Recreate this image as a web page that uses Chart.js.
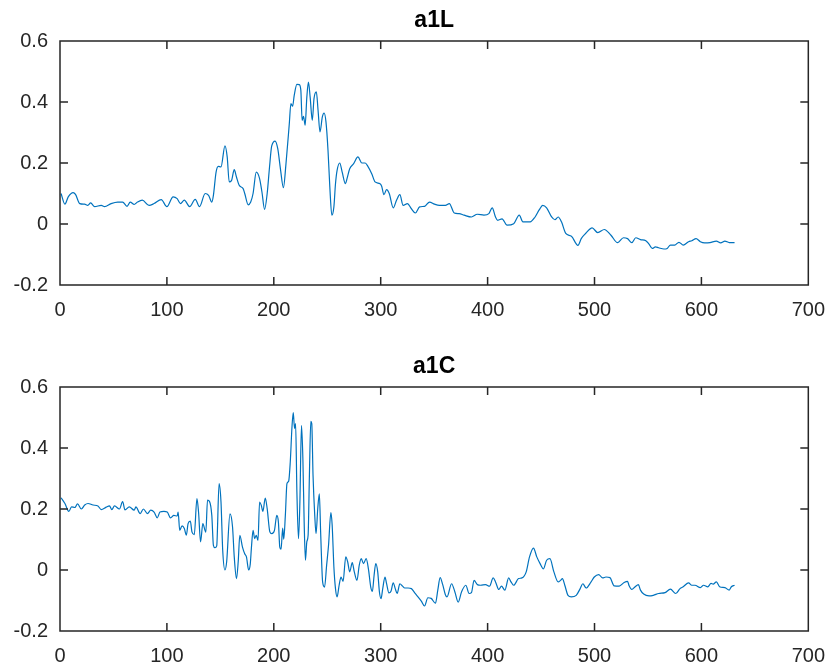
<!DOCTYPE html>
<html>
<head>
<meta charset="utf-8">
<script src="https://cdn.jsdelivr.net/npm/chart.js@4"></script>
<style>
  html, body { margin: 0; padding: 0; background: #fff; }
  .wrap { position: absolute; left: 0; width: 838px; height: 334px; }
  canvas { display: block; }
</style>
</head>
<body>
<div class="wrap" style="top:0"><canvas id="c1" width="838" height="334"></canvas></div>
<div class="wrap" style="top:334px"><canvas id="c2" width="838" height="334"></canvas></div>
<script>
const titles = ['a1L', 'a1C'];
const xTicks = [0, 100, 200, 300, 400, 500, 600, 700];
const yTicks = [-0.2, 0, 0.2, 0.4, 0.6];
const yTickLabels = ['-0.2', '0', '0.2', '0.4', '0.6'];

const xL = [1,4.6,7.7,12.3,14.5,18.5,23,26,28.7,32.4,38.6,41.7,47.8,54,58.6,62.7,65.7,69.4,72.5,77,83.3,88,94.7,100,105.8,109.6,112.7,116.3,121.3,126.5,130.5,135.8,139,142,143.5,146,148.1,150.6,154.3,156.4,158.3,160.5,163,165,167.6,171.3,172.8,176,178.4,180.6,183.6,186.7,188.9,191.4,193.8,196,198,201.2,203.7,206.2,209,211.4,214.5,216,217.6,219.1,221.6,223.8,225.3,226.5,227.8,229.3,230.9,232.4,234,236,237.6,239.8,241.4,243.2,245.4,247,248.8,250.7,252.4,254.3,256.2,257.7,259.2,261.7,263.9,267,268.5,271,274.7,278.7,282.4,285.5,288,291.6,294.7,299.4,300.9,303,305.5,308,311.7,314.8,317.9,321,325,328.7,332.4,336.4,341,345.7,350.3,354.9,360.5,364.2,368.8,373.4,378,384.9,390.4,396.6,401.2,404.3,407.4,409.5,413.5,418.2,424.4,429.6,433,439.8,444.4,448.4,451.5,455.2,459.9,463,466,469.1,473.1,478.4,484.5,487.6,491.7,497.8,503,509.2,515.4,521.6,527.1,530.9,534.9,538.6,543,548,551,554,557,560,565,568,571,575,579,583,588,591,595,599,603,608,614,618,622,626,631];
const yL = [0.100,0.065,0.089,0.103,0.097,0.067,0.065,0.061,0.069,0.057,0.061,0.057,0.067,0.072,0.072,0.058,0.072,0.064,0.072,0.078,0.061,0.067,0.080,0.057,0.089,0.083,0.067,0.078,0.057,0.081,0.057,0.100,0.094,0.072,0.094,0.170,0.189,0.187,0.256,0.220,0.138,0.143,0.178,0.155,0.127,0.116,0.100,0.063,0.072,0.100,0.170,0.149,0.105,0.048,0.100,0.187,0.255,0.272,0.247,0.181,0.119,0.198,0.329,0.395,0.386,0.422,0.458,0.457,0.438,0.340,0.353,0.324,0.416,0.465,0.416,0.340,0.411,0.433,0.373,0.302,0.351,0.364,0.335,0.242,0.121,0.029,0.056,0.132,0.176,0.200,0.171,0.132,0.149,0.181,0.198,0.220,0.200,0.200,0.189,0.165,0.138,0.132,0.124,0.096,0.113,0.100,0.053,0.078,0.096,0.061,0.067,0.050,0.036,0.056,0.058,0.072,0.065,0.061,0.061,0.067,0.036,0.034,0.029,0.023,0.032,0.029,0.034,0.053,0.023,0.012,0.017,-0.004,0.001,0.029,0.007,0.007,0.023,0.047,0.061,0.053,0.023,0.014,0.023,0.007,-0.031,-0.040,-0.070,-0.048,-0.031,-0.013,-0.028,-0.018,-0.037,-0.061,-0.045,-0.048,-0.061,-0.045,-0.051,-0.055,-0.066,-0.080,-0.075,-0.078,-0.082,-0.080,-0.069,-0.069,-0.060,-0.069,-0.058,-0.055,-0.048,-0.058,-0.062,-0.061,-0.056,-0.062,-0.056,-0.061,-0.061];

const xC = [1,4.6,8.3,10.8,13.9,16.4,20,23.1,26.2,30.9,35.5,38.6,43.2,46.3,48.5,51,55.6,58.6,60.8,64.8,69.4,71,75,78,81.8,84.9,88,91,93.5,97.2,100.3,103.4,106.5,109.6,110.5,112,114.2,116.3,118.2,119.8,121.9,123.5,125.6,128.1,129.6,131.5,133.6,136.4,138,139.8,142,143.5,145,146.6,148.8,150.6,152.2,154.3,155.9,159,161.4,163,165.1,166.7,168.2,170.7,172.8,174.4,176.5,178,179,180.6,182.1,183.6,185.2,186.7,188.3,189.8,192,193.8,196.3,198.1,200.6,202.8,204.3,205.6,206.8,208.3,209.3,210.8,212.3,213.9,215.4,217,218.2,219.4,220.4,221.6,223.1,224.4,225.9,227.2,228.4,229.6,230.9,232.1,233.3,234.6,235.5,236.7,238.3,239.5,241.1,242.6,243.8,245.7,247.5,249.4,251.2,253.4,254.6,256.2,257.7,259.2,261.1,262.9,264.8,267.3,269.1,271,273.4,275.3,277.8,279.9,281.8,283.9,286.4,288.5,290.7,292.2,293.8,295.4,297.2,298.8,300.3,301.9,304,305.5,307.7,309.6,311.7,313.6,315.4,317.9,320.4,322.5,325.6,328.7,331.8,334.9,338,341,344.1,347.2,351.2,353.4,355.6,358,360.5,362,366.3,369.4,372.5,375.6,379.6,382.7,384.9,387.3,390.4,393.5,398.1,401.8,405.2,407.4,410.5,413,416.1,419.7,421.9,424.4,429,432.1,436.1,439.2,442.9,446,449.1,452.2,455.2,458.3,462,466,468.2,470,472.2,475.2,478.3,482.9,486.6,489.1,492.1,496.8,499.8,503.9,507.6,510.7,514.4,518.4,523.1,527.7,530.9,532.4,534.9,538,541,543,546,551,555,560,566,571,576,580,583,588,591,594,599,602,606,609,611,614,617,622,626,628,631];
const yC = [0.237,0.218,0.192,0.207,0.205,0.217,0.200,0.213,0.218,0.213,0.210,0.198,0.206,0.210,0.198,0.210,0.200,0.224,0.197,0.207,0.196,0.207,0.185,0.200,0.185,0.196,0.190,0.171,0.190,0.192,0.190,0.171,0.179,0.177,0.190,0.130,0.145,0.136,0.114,0.152,0.160,0.124,0.116,0.234,0.190,0.092,0.152,0.124,0.229,0.225,0.179,0.081,0.073,0.079,0.283,0.223,0.065,0.000,0.027,0.184,0.141,0.043,-0.028,0.027,0.114,0.075,0.053,0.043,0.000,0.020,0.070,0.130,0.103,0.114,0.097,0.223,0.212,0.192,0.236,0.201,0.125,0.119,0.130,0.179,0.157,0.075,0.068,0.137,0.101,0.179,0.283,0.291,0.354,0.469,0.516,0.464,0.480,0.256,0.103,0.223,0.474,0.365,0.157,0.032,0.093,0.114,0.310,0.487,0.480,0.310,0.179,0.119,0.201,0.250,0.125,-0.040,-0.056,0.015,0.081,0.188,0.147,0.010,-0.061,-0.088,-0.050,-0.023,-0.037,0.043,0.027,-0.006,0.024,-0.006,-0.034,0.015,0.037,0.021,0.037,0.004,-0.056,-0.070,-0.018,0.021,-0.006,-0.072,-0.094,-0.061,-0.023,-0.045,-0.075,-0.070,-0.042,-0.061,-0.077,-0.045,-0.053,-0.059,-0.059,-0.061,-0.075,-0.088,-0.102,-0.118,-0.091,-0.093,-0.109,-0.066,-0.025,-0.048,-0.081,-0.088,-0.045,-0.072,-0.105,-0.072,-0.050,-0.077,-0.074,-0.034,-0.048,-0.050,-0.048,-0.053,-0.026,-0.039,-0.064,-0.053,-0.066,-0.026,-0.039,-0.050,-0.028,-0.026,-0.006,0.043,0.072,0.043,0.021,0.004,0.032,0.037,-0.006,-0.039,-0.034,-0.028,-0.050,-0.083,-0.088,-0.083,-0.061,-0.045,-0.059,-0.039,-0.023,-0.015,-0.026,-0.023,-0.025,-0.052,-0.053,-0.041,-0.037,-0.052,-0.064,-0.055,-0.048,-0.066,-0.079,-0.085,-0.083,-0.077,-0.074,-0.063,-0.077,-0.061,-0.055,-0.042,-0.050,-0.050,-0.058,-0.050,-0.055,-0.044,-0.046,-0.039,-0.055,-0.058,-0.066,-0.055,-0.050];

const AXIS_COLOR = '#262626';
const LINE_COLOR = '#0072BD';
const FONT = '"Liberation Sans", Arial, Helvetica, sans-serif';

const framePlugin = {
  id: 'frame',
  afterDraw(chart, args, opts) {
    const ctx = chart.ctx;
    const a = chart.chartArea;
    const xs = chart.scales.x, ys = chart.scales.y;
    const tl = 8;
    ctx.save();
    ctx.strokeStyle = AXIS_COLOR;
    ctx.lineWidth = 1.5;
    ctx.beginPath();
    ctx.rect(a.left, a.top, a.right - a.left, a.bottom - a.top);
    xTicks.forEach(v => {
      const px = xs.getPixelForValue(v);
      ctx.moveTo(px, a.bottom); ctx.lineTo(px, a.bottom - tl);
      ctx.moveTo(px, a.top); ctx.lineTo(px, a.top + tl);
    });
    yTicks.forEach(v => {
      const py = ys.getPixelForValue(v);
      ctx.moveTo(a.left, py); ctx.lineTo(a.left + tl, py);
      ctx.moveTo(a.right, py); ctx.lineTo(a.right - tl, py);
    });
    ctx.stroke();
    ctx.fillStyle = '#000';
    ctx.font = 'bold 23px ' + FONT;
    ctx.textAlign = 'center';
    ctx.textBaseline = 'alphabetic';
    ctx.fillText(opts.text, (a.left + a.right) / 2, a.top - 14);
    ctx.restore();
  }
};

function makeChart(id, title, xs, ys, top, bottom) {
  const H = 334;
  const pts = xs.map((x, i) => ({ x: x, y: ys[i] }));
  return new Chart(document.getElementById(id), {
    type: 'scatter',
    data: {
      datasets: [{
        data: pts,
        showLine: true,
        borderColor: LINE_COLOR,
        borderWidth: 1.2,
        pointRadius: 0,
        pointHoverRadius: 0,
        fill: false,
        cubicInterpolationMode: 'monotone'
      }]
    },
    plugins: [framePlugin],
    options: {
      responsive: false,
      animation: false,
      events: [],
      layout: { padding: { top: top, right: 21, left: 0, bottom: 0 } },
      plugins: {
        legend: { display: false },
        tooltip: { enabled: false },
        title: { display: false },
        frame: { text: title }
      },
      scales: {
        x: {
          type: 'linear',
          position: 'bottom',
          min: 0, max: 700,
          grid: { display: false, drawTicks: false },
          border: { display: false },
          afterBuildTicks: s => { s.ticks = xTicks.map(v => ({ value: v })); },
          afterFit: s => { s.height = H - bottom; },
          ticks: {
            padding: 13,
            color: AXIS_COLOR,
            font: { family: FONT, size: 20 },
            maxRotation: 0,
            autoSkip: false,
            callback: v => String(v)
          }
        },
        y: {
          type: 'linear',
          position: 'left',
          min: -0.2, max: 0.6,
          grid: { display: false, drawTicks: false },
          border: { display: false },
          afterBuildTicks: s => { s.ticks = yTicks.map(v => ({ value: v })); },
          afterFit: s => { s.width = 60; },
          ticks: {
            padding: 12,
            color: AXIS_COLOR,
            font: { family: FONT, size: 20 },
            autoSkip: false,
            callback: (v, i) => yTickLabels[i]
          }
        }
      }
    }
  });
}

makeChart('c1', titles[0], xL, yL, 41, 285);
makeChart('c2', titles[1], xC, yC, 53, 297);
</script>
</body>
</html>
